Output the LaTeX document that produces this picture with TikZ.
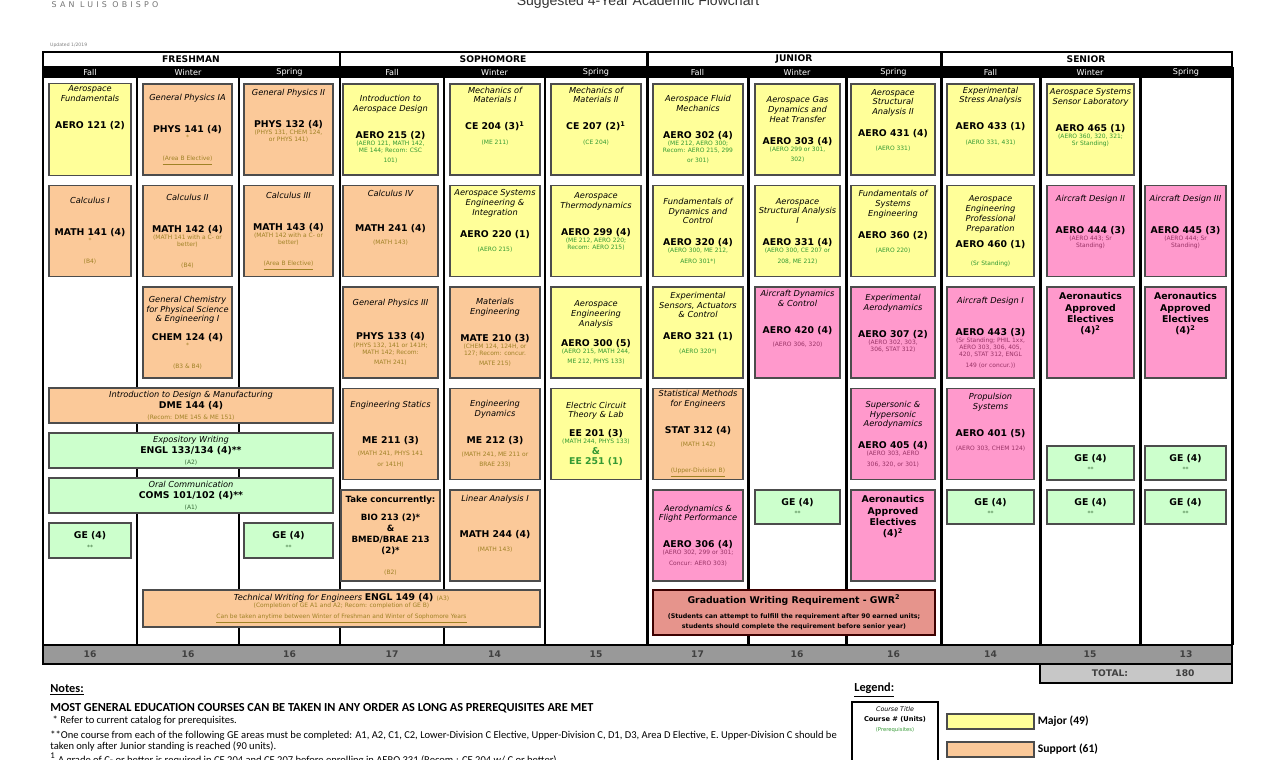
\documentclass[tikz,border=0pt]{standalone}
\usepackage{fontspec}
\setmainfont{DejaVu Sans}
\newfontfamily\notefont{Carlito}
\newfontfamily\headfont{Liberation Sans}
\definecolor{cmajor}{HTML}{FFFF99}
\definecolor{csupport}{HTML}{FBC999}
\definecolor{cconcen}{HTML}{FF99CC}
\definecolor{cge}{HTML}{CCFFCC}
\definecolor{cgwr}{HTML}{E6948C}
\definecolor{pmajor}{HTML}{339933}
\definecolor{psupport}{HTML}{A08226}
\definecolor{pconcen}{HTML}{993366}
\definecolor{pge}{HTML}{336633}
\colorlet{prq}{pmajor}
\newcommand{\ct}{\fontsize{4.7}{5.6}\selectfont\itshape}
\newcommand{\cn}{\fontsize{5.3}{6.4}\selectfont\upshape\bfseries}
\newcommand{\cp}{\fontsize{3.4}{4}\selectfont\upshape\mdseries\color{prq}}
\tikzset{
  crs/.style={draw=black!70,line width=1pt,align=flush center,inner sep=1pt,font=\fontsize{5}{6}\selectfont},
  major/.style={crs,fill=cmajor,execute at begin node={\colorlet{prq}{pmajor}}},
  support/.style={crs,fill=csupport,execute at begin node={\colorlet{prq}{psupport}}},
  concen/.style={crs,fill=cconcen,execute at begin node={\colorlet{prq}{pconcen}}},
  gened/.style={crs,fill=cge,execute at begin node={\colorlet{prq}{pge}}},
  gwrbox/.style={crs,fill=cgwr,draw=black!60!red!60!black,execute at begin node={\colorlet{prq}{black!80!red}}},
  wh/.style 2 args={minimum width=#1*0.02cm,minimum height=#2*0.02cm,text width=#1*0.02cm-2pt},
  colline/.style={line width=1.7pt},
  qtr/.style={text=white,font=\fontsize{4.6}{5}\selectfont},
  yr/.style={font=\fontsize{5.2}{6}\selectfont\bfseries},
  crd/.style={font=\fontsize{5.2}{6}\selectfont\bfseries,text=black!75},
  note/.style={anchor=west,inner sep=0pt,font=\notefont\fontsize{6}{7}\selectfont}
}
\begin{document}
\begin{tikzpicture}[x=0.02cm,y=-0.02cm]
\useasboundingbox (0,0) rectangle (1278,760);
\clip (0,0) rectangle (1278,760);
% page heading
\node[text=black!55,font=\fontsize{4.5}{5}\selectfont\addfontfeature{LetterSpace=40}] (campus) at (105,5) {SAN LUIS OBISPO};
\node[anchor=base,font=\headfont\fontsize{8}{9}\selectfont,text=black!80] (title) at (638,6) {Suggested 4-Year Academic Flowchart};
\node[anchor=west,text=black!50,font=\fontsize{2.6}{3}\selectfont] (upd) at (44,45) {Updated 1/2019};
% year and quarter headers
\draw[line width=1pt,fill=white] (43,52) rectangle (1232,67);
\foreach \x in {340,647,941} \draw[colline] (\x,52) -- (\x,67);
\fill (43,67) rectangle (1232,78);
\foreach \x/\y [count=\i] in {191/FRESHMAN,493/SOPHOMORE,794/JUNIOR,1086/SENIOR}
  \node[yr] (yr\i) at (\x,59.5) {\y};
\foreach \x/\q [count=\i] in {90/Fall,188/Winter,289.5/Spring,392/Fall,494.5/Winter,596/Spring,697.5/Fall,797/Winter,893.5/Spring,990.5/Fall,1090/Winter,1186/Spring}
  \node[qtr] (q\i) at (\x,72.5) {\q};
\foreach \x in {43,137,239,340,444,545,647,748,846,941,1040,1140,1232}
  \draw[colline] (\x,67) -- (\x,645);
% freshman
\node[major,wh={82}{91}] (aero121) at (90,129.5) {\ct Aerospace\\Fundamentals\\[9pt]\cn AERO 121 (2)\\[20pt]\mbox{}};
\node[support,wh={82}{91}] (math141) at (90,231) {\ct Calculus I\\[12pt]\cn MATH 141 (4)\\\cp *\\[6pt](B4)};
\node[support,wh={89}{91}] (phys141) at (187.5,129.5) {\ct General Physics IA\\[12pt]\cn PHYS 141 (4)\\\cp *\\[6pt]\underline{(Area B Elective)}};
\node[support,wh={89}{91}] (math142) at (187.5,231) {\ct Calculus II\\[12pt]\cn MATH 142 (4)\\\cp (MATH 141 with a C- or better)\\[6pt](B4)};
\node[support,wh={89}{91}] (chem124) at (187.5,332.5) {\ct General Chemistry\\for Physical Science\\\& Engineering I\\[4pt]\cn CHEM 124 (4)\\\cp *\\[6pt](B3 \& B4)};
\node[support,wh={89}{91}] (phys132) at (288.5,129.5) {\ct General Physics II\\[12pt]\cn PHYS 132 (4)\\\cp (PHYS 131, CHEM 124,\\or PHYS 141)\\[10pt]\mbox{}};
\node[support,wh={89}{91}] (math143) at (288.5,231) {\ct Calculus III\\[12pt]\cn MATH 143 (4)\\\cp (MATH 142 with a C- or better)\\[6pt]\underline{(Area B Elective)}};
\node[support,wh={284}{35}] (dme144) at (191,405.5) {\ct Introduction to Design \& Manufacturing\\\cn DME 144 (4)\\\cp (Recom: DME 145 \& ME 151)};
\node[gened,wh={284}{35}] (engl133) at (191,450.5) {\ct Expository Writing\\\cn ENGL 133/134 (4)**\\\cp (A2)};
\node[gened,wh={284}{35}] (coms101) at (191,495.5) {\ct Oral Communication\\\cn COMS 101/102 (4)**\\\cp (A1)};
\node[gened,wh={82}{35}] (gefr1) at (90,540.5) {\cn GE (4)\\\cp **};
\node[gened,wh={89}{35}] (gefr3) at (288.5,540.5) {\cn GE (4)\\\cp **};
\node[support,wh={397}{37}] (engl149) at (341.5,608.5) {\ct Technical Writing for Engineers \cn ENGL 149 (4) \cp (A3)\\\cp (Completion of GE A1 and A2; Recom: completion of GE B)\\\underline{Can be taken anytime between Winter of Freshman and Winter of Sophomore Years}};
% sophomore
\node[major,wh={95}{91}] (aero215) at (390.5,129.5) {\ct Introduction to\\Aerospace Design\\[9pt]\cn AERO 215 (2)\\\cp (AERO 121, MATH 142,\\ME 144; Recom: CSC\\101)};
\node[support,wh={95}{91}] (math241) at (390.5,231) {\ct Calculus IV\\[14pt]\cn MATH 241 (4)\\[3pt]\cp (MATH 143)\\[10pt]\mbox{}};
\node[support,wh={95}{91}] (phys133) at (390.5,332.5) {\ct General Physics III\\[13pt]\cn PHYS 133 (4)\\\cp (PHYS 132, 141 or 141H;\\MATH 142; Recom:\\MATH 241)};
\node[support,wh={95}{91}] (me211) at (390.5,434) {\ct Engineering Statics\\[14pt]\cn ME 211 (3)\\[3pt]\cp (MATH 241, PHYS 141\\or 141H)};
\node[support,wh={95}{91},text width=95*0.02cm] (bio213) at (390.5,535.5) {\fontsize{4.9}{6.2}\selectfont\bfseries Take concurrently:\\[4pt]BIO 213 (2)*\\\&\\BMED/BRAE 213\\(2)*\\[6pt]\cp (B2)};
\node[major,wh={90}{91}] (ce204) at (495,129.5) {\ct Mechanics of\\Materials I\\[9pt]\cn CE 204 (3)\textsuperscript{1}\\[4pt]\cp (ME 211)\\[10pt]\mbox{}};
\node[major,wh={90}{91}] (aero220) at (495,231) {\ct Aerospace Systems\\Engineering \&\\Integration\\[6pt]\cn AERO 220 (1)\\[4pt]\cp (AERO 215)\\[6pt]\mbox{}};
\node[support,wh={90}{91}] (mate210) at (495,332.5) {\ct Materials\\Engineering\\[9pt]\cn MATE 210 (3)\\\cp (CHEM 124, 124H, or\\127; Recom: concur.\\MATE 215)};
\node[support,wh={90}{91}] (me212) at (495,434) {\ct Engineering\\Dynamics\\[9pt]\cn ME 212 (3)\\[3pt]\cp (MATH 241, ME 211 or\\BRAE 233)};
\node[support,wh={90}{91}] (math244) at (495,535.5) {\ct Linear Analysis I\\[14pt]\cn MATH 244 (4)\\[4pt]\cp (MATH 143)\\[8pt]\mbox{}};
\node[major,wh={90}{91}] (ce207) at (596,129.5) {\ct Mechanics of\\Materials II\\[9pt]\cn CE 207 (2)\textsuperscript{1}\\[4pt]\cp (CE 204)\\[10pt]\mbox{}};
\node[major,wh={90}{91}] (aero299) at (596,231) {\ct Aerospace\\Thermodynamics\\[9pt]\cn AERO 299 (4)\\\cp (ME 212, AERO 220;\\Recom: AERO 215)\\[5pt]\mbox{}};
\node[major,wh={90}{91}] (aero300) at (596,332.5) {\ct Aerospace\\Engineering\\Analysis\\[5pt]\cn AERO 300 (5)\\\cp (AERO 215, MATH 244,\\ME 212, PHYS 133)};
\node[major,wh={90}{91}] (ee201) at (596,434) {\ct Electric Circuit\\Theory \& Lab\\[4pt]\cn EE 201 (3)\\\cp (MATH 244, PHYS 133)\\\cn \&\\EE 251 (1)};
% junior
\node[major,wh={90}{91}] (aero302) at (698,129.5) {\ct Aerospace Fluid\\Mechanics\\[9pt]\cn AERO 302 (4)\\\cp (ME 212, AERO 300;\\Recom: AERO 215, 299\\or 301)};
\node[major,wh={90}{91}] (aero320) at (698,231) {\ct Fundamentals of\\Dynamics and\\Control\\[6pt]\cn AERO 320 (4)\\\cp (AERO 300, ME 212,\\AERO 301*)};
\node[major,wh={90}{91}] (aero321) at (698,332.5) {\ct Experimental\\Sensors, Actuators\\\& Control\\[6pt]\cn AERO 321 (1)\\[4pt]\cp (AERO 320*)\\[5pt]\mbox{}};
\node[support,wh={90}{91}] (stat312) at (698,434) {\ct Statistical Methods\\for Engineers\\[9pt]\cn STAT 312 (4)\\[3pt]\cp (MATH 142)\\[9pt]\underline{(Upper-Division B)}};
\node[concen,wh={90}{91}] (aero306) at (698,535.5) {\ct Aerodynamics \&\\Flight Performance\\[9pt]\cn AERO 306 (4)\\\cp (AERO 302, 299 or 301;\\Concur: AERO 303)};
\node[major,wh={85}{91}] (aero303) at (797.5,129.5) {\ct Aerospace Gas\\Dynamics and\\Heat Transfer\\[6pt]\cn AERO 303 (4)\\\cp (AERO 299 or 301,\\302)};
\node[major,wh={85}{91}] (aero331) at (797.5,231) {\ct Aerospace\\Structural Analysis\\I\\[6pt]\cn AERO 331 (4)\\\cp (AERO 300, CE 207 or\\208, ME 212)};
\node[concen,wh={85}{91}] (aero420) at (797.5,332.5) {\ct Aircraft Dynamics\\\& Control\\[9pt]\cn AERO 420 (4)\\[3pt]\cp (AERO 306, 320)\\[10pt]\mbox{}};
\node[gened,wh={85}{34}] (gejr) at (797.5,507) {\cn GE (4)\\\cp **};
\node[major,wh={84}{91}] (aero431) at (893,129.5) {\ct Aerospace\\Structural\\Analysis II\\[6pt]\cn AERO 431 (4)\\[4pt]\cp (AERO 331)\\[5pt]\mbox{}};
\node[major,wh={84}{91}] (aero360) at (893,231) {\ct Fundamentals of\\Systems\\Engineering\\[6pt]\cn AERO 360 (2)\\[4pt]\cp (AERO 220)\\[5pt]\mbox{}};
\node[concen,wh={84}{91}] (aero307) at (893,332.5) {\ct Experimental\\Aerodynamics\\[9pt]\cn AERO 307 (2)\\\cp (AERO 302, 303,\\306, STAT 312)\\[5pt]\mbox{}};
\node[concen,wh={84}{91}] (aero405) at (893,434) {\ct Supersonic \&\\Hypersonic\\Aerodynamics\\[6pt]\cn AERO 405 (4)\\\cp (AERO 303, AERO\\306, 320, or 301)};
\node[concen,wh={84}{91}] (elecjr) at (893,535.5) {\cn Aeronautics\\Approved\\Electives\\(4)\textsuperscript{2}\\[16pt]\mbox{}};
\node[gwrbox,wh={282}{45}] (gwr) at (794,612.5) {\cn Graduation Writing Requirement - GWR\textsuperscript{2}\\[4pt]\fontsize{3.6}{4.6}\selectfont(Students can attempt to fulfill the requirement after 90 earned units;\\students should complete the requirement before senior year)};
% senior
\node[major,wh={87}{91}] (aero433) at (990.5,129.5) {\ct Experimental\\Stress Analysis\\[9pt]\cn AERO 433 (1)\\[4pt]\cp (AERO 331, 431)\\[10pt]\mbox{}};
\node[major,wh={87}{91}] (aero460) at (990.5,231) {\ct Aerospace\\Engineering\\Professional\\Preparation\\[3pt]\cn AERO 460 (1)\\[4pt]\cp (Sr Standing)};
\node[concen,wh={87}{91}] (aero443) at (990.5,332.5) {\ct Aircraft Design I\\[12pt]\cn AERO 443 (3)\\\cp (Sr Standing; PHIL 1xx,\\AERO 303, 306, 405,\\420, STAT 312, ENGL\\149 (or concur.))};
\node[concen,wh={87}{91}] (aero401) at (990.5,434) {\ct Propulsion\\Systems\\[9pt]\cn AERO 401 (5)\\[4pt]\cp (AERO 303, CHEM 124)\\[8pt]\mbox{}};
\node[gened,wh={87}{34}] (gesr1) at (990.5,507) {\cn GE (4)\\\cp **};
\node[major,wh={87}{91}] (aero465) at (1090.5,129.5) {\ct Aerospace Systems\\Sensor Laboratory\\[9pt]\cn AERO 465 (1)\\\cp (AERO 360, 320, 321;\\Sr Standing)\\[8pt]\mbox{}};
\node[concen,wh={87}{91}] (aero444) at (1090.5,231) {\ct Aircraft Design II\\[12pt]\cn AERO 444 (3)\\\cp (AERO 443; Sr\\Standing)\\[5pt]\mbox{}};
\node[concen,wh={87}{91}] (elecsr2) at (1090.5,332.5) {\cn Aeronautics\\Approved\\Electives\\(4)\textsuperscript{2}\\[16pt]\mbox{}};
\node[gened,wh={87}{34}] (gesr2a) at (1090.5,463) {\cn GE (4)\\\cp **};
\node[gened,wh={87}{34}] (gesr2b) at (1090.5,507) {\cn GE (4)\\\cp **};
\node[concen,wh={81}{91}] (aero445) at (1185.5,231) {\ct Aircraft Design III\\[12pt]\cn AERO 445 (3)\\\cp (AERO 444; Sr\\Standing)\\[5pt]\mbox{}};
\node[concen,wh={81}{91}] (elecsr3) at (1185.5,332.5) {\cn Aeronautics\\Approved\\Electives\\(4)\textsuperscript{2}\\[16pt]\mbox{}};
\node[gened,wh={81}{34}] (gesr3a) at (1185.5,463) {\cn GE (4)\\\cp **};
\node[gened,wh={81}{34}] (gesr3b) at (1185.5,507) {\cn GE (4)\\\cp **};
% unit totals
\draw[fill=black!40,line width=1pt] (43,645) rectangle (1232,664);
\foreach \x/\c [count=\i] in {90/16,188/16,289.5/16,392/17,494.5/14,596/15,697.5/17,797/16,893.5/16,990.5/14,1090/15,1186/13}
  \node[crd] (cr\i) at (\x,654.5) {\c};
\draw[fill=black!22,line width=1pt] (1040,664) rectangle (1232,683);
\node[crd] (tot) at (1110,673.5) {TOTAL:};
\node[crd] (totval) at (1185,673.5) {180};
% notes
\node[note,font=\notefont\fontsize{7}{8}\selectfont\bfseries] (notes) at (50,690) {\underline{Notes:}};
\node[note,font=\notefont\fontsize{7}{8}\selectfont\bfseries] (n1) at (50,708) {MOST GENERAL EDUCATION COURSES CAN BE TAKEN IN ANY ORDER AS LONG AS PREREQUISITES ARE MET};
\node[note] (n2) at (50,721) {\ * Refer to current catalog for prerequisites.};
\node[note] (n3) at (50,736) {**One course from each of the following GE areas must be completed: A1, A2, C1, C2, Lower-Division C Elective, Upper-Division C, D1, D3, Area D Elective, E. Upper-Division C should be};
\node[note] (n4) at (50,747) {taken only after Junior standing is reached (90 units).};
\node[note] (n5) at (50,759) {\textsuperscript{1} A grade of C- or better is required in CE 204 and CE 207 before enrolling in AERO 331 (Recom.: CE 204 w/ C or better).};
% legend
\node[note,font=\notefont\fontsize{7}{8}\selectfont\bfseries] (leg) at (854,690) {\underline{Legend:}};
\draw[line width=0.8pt,fill=white] (852,702) rectangle (938,790);
\node[font=\fontsize{3.6}{4}\selectfont\itshape] (lgt) at (895,709) {Course Title};
\node[font=\fontsize{3.8}{4}\selectfont\bfseries] (lgn) at (895,719) {Course \# (Units)};
\node[font=\fontsize{3}{4}\selectfont,text=pmajor] (lgp) at (895,730) {(Prerequisites)};
\node[major,wh={87}{15}] (lgmaj) at (990.5,721.5) {};
\node[note,font=\notefont\fontsize{6.6}{7}\selectfont\bfseries] (lgmajt) at (lgmaj.east) {\ Major (49)};
\node[support,wh={87}{15}] (lgsup) at (990.5,749.5) {};
\node[note,font=\notefont\fontsize{6.6}{7}\selectfont\bfseries] (lgsupt) at (lgsup.east) {\ Support (61)};
\end{tikzpicture}
\end{document}
